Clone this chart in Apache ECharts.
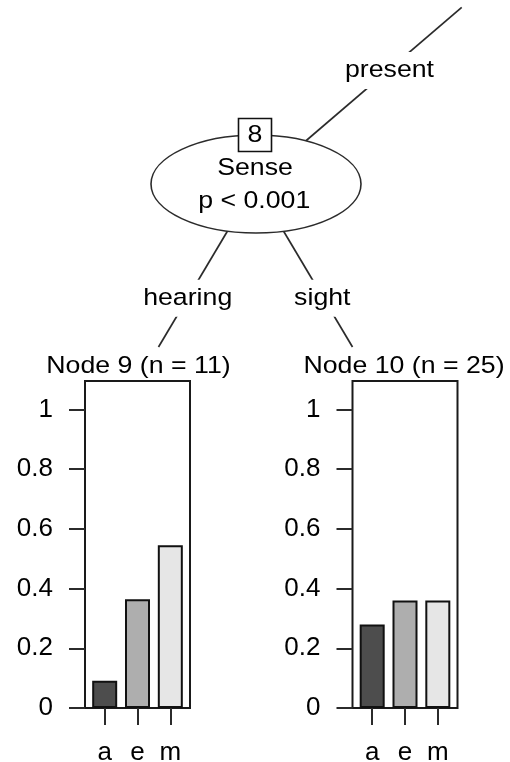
<!DOCTYPE html>
<html>
<head>
<meta charset="utf-8">
<script src="https://cdn.jsdelivr.net/npm/echarts@6/dist/echarts.min.js"></script>
<style>
  html, body { margin: 0; padding: 0; background: #fff; }
  #chart { width: 510px; height: 762px; }
</style>
</head>
<body>
<div id="chart"></div>
<script>
// tree node 8 splits on Sense, two terminal nodes below
const categories = ['a', 'e', 'm']
const node9Values = [0.091, 0.364, 0.545]
const node10Values = [0.28, 0.36, 0.36]
const yTicks = [0, 0.2, 0.4, 0.6, 0.8, 1]
const nodeTitles = ['Node 9 (n = 11)', 'Node 10 (n = 25)']
const edgeLabels = ['present', 'hearing', 'sight']
const splitText = ['8', 'Sense', 'p < 0.001']
const barColors = ['#4d4d4d', '#aeaeae', '#e6e6e6']

const font = 'Liberation Sans, Arial, sans-serif'
const lineColor = '#2b2b2b'

const chart = echarts.init(document.getElementById('chart'))

const makeBars = (values, idx) => ({
  type: 'bar',
  xAxisIndex: idx,
  yAxisIndex: idx,
  barWidth: 25,
  data: values.map((v, i) => ({
    value: [i + 1, v],
    itemStyle: { color: barColors[i] }
  })),
  itemStyle: { borderColor: '#111', borderWidth: 2 },
  silent: true
})

const makeXAxis = (idx) => ({
  gridIndex: idx,
  type: 'value',
  min: 0.4,
  max: 3.6,
  splitLine: { show: false },
  axisLine: { show: false },
  axisTick: {
    show: true,
    customValues: [1, 2, 3],
    length: 17,
    lineStyle: { color: lineColor, width: 2 }
  },
  axisLabel: {
    customValues: [1, 2, 3],
    formatter: (v) => categories[Math.round(v) - 1],
    margin: 32,
    fontSize: 26,
    fontFamily: font,
    color: '#000'
  }
})

const makeYAxis = (idx) => ({
  gridIndex: idx,
  type: 'value',
  min: 0,
  max: 1.095,
  splitLine: { show: false },
  axisLine: { show: false },
  axisTick: {
    show: true,
    customValues: yTicks,
    length: 16,
    lineStyle: { color: lineColor, width: 2 }
  },
  axisLabel: {
    customValues: yTicks,
    formatter: (v) => String(v),
    margin: 32,
    fontSize: 26,
    fontFamily: font,
    color: '#000'
  }
})

const txt = (text, x, y, z, bg) => ({
  type: 'text',
  x: x,
  y: y,
  scaleX: 1.09,
  z: z || 10,
  style: {
    text: text,
    fontSize: 24.5,
    fontFamily: font,
    fill: '#000',
    align: 'center',
    verticalAlign: 'middle',
    backgroundColor: bg ? '#fff' : 'transparent',
    padding: bg ? [6, 3] : 0
  }
})

const edge = (x1, y1, x2, y2) => ({
  type: 'line',
  z: 1,
  shape: { x1: x1, y1: y1, x2: x2, y2: y2 },
  style: { stroke: lineColor, lineWidth: 1.7 }
})

const panelGrid = (left) => ({
  left: left,
  top: 381,
  width: 105,
  height: 327,
  outerBoundsMode: 'none',
  containLabel: false,
  show: true,
  borderColor: '#1a1a1a',
  borderWidth: 2,
  backgroundColor: 'transparent'
})

let option = {
  backgroundColor: '#fff',
  animation: false,
  grid: [panelGrid(85), panelGrid(352.5)],
  xAxis: [makeXAxis(0), makeXAxis(1)],
  yAxis: [makeYAxis(0), makeYAxis(1)],
  series: [makeBars(node9Values, 0), makeBars(node10Values, 1)],
  graphic: [
    edge(461.7, 7.3, 255.5, 184),
    edge(255.5, 184, 158.5, 347),
    edge(255.5, 184, 352.5, 347),
    {
      type: 'ellipse',
      z: 2,
      shape: { cx: 256, cy: 184, rx: 105, ry: 49 },
      style: { fill: '#fff', stroke: lineColor, lineWidth: 1.6 }
    },
    {
      type: 'rect',
      z: 3,
      shape: { x: 238.5, y: 118.5, width: 33, height: 33 },
      style: { fill: '#fff', stroke: '#111', lineWidth: 1.6 }
    },
    txt(splitText[0], 255, 135.5, 4),
    txt(splitText[1], 255, 168.2, 4),
    txt(splitText[2], 254.2, 200.8, 4),
    txt(edgeLabels[0], 389.5, 70.5, 4, true),
    txt(edgeLabels[1], 187.7, 298.2, 4, true),
    txt(edgeLabels[2], 322.3, 298.2, 4, true),
    txt(nodeTitles[0], 138.5, 366.5, 4),
    txt(nodeTitles[1], 404, 366.5, 4)
  ]
}

chart.setOption(option)
</script>
</body>
</html>
